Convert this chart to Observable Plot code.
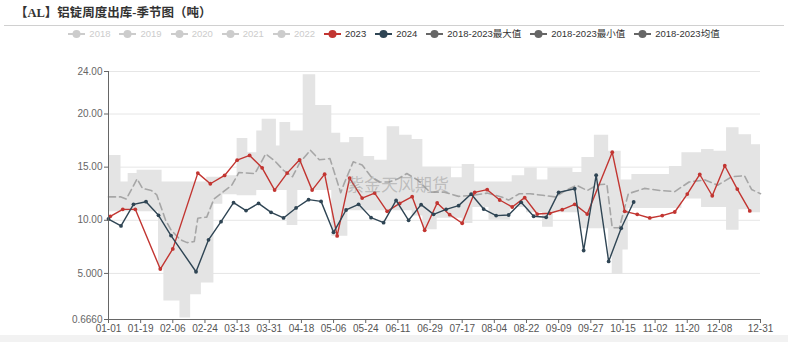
<!DOCTYPE html>
<html><head><meta charset="utf-8">
<script src="https://cdn.jsdelivr.net/npm/d3@7"></script>
<script src="https://cdn.jsdelivr.net/npm/@observablehq/plot@0.6"></script>
<style>
body{margin:0;background:#fff;font-family:"Liberation Sans","Noto Sans CJK SC",sans-serif;}
#wrap{position:relative;width:788px;height:342px;overflow:hidden;background:#fff}
#title{position:absolute;left:15px;top:5px;font-size:12.5px;font-weight:bold;color:#333;font-family:"Liberation Serif","Noto Sans CJK SC",serif;line-height:16px}
#rule{position:absolute;left:4px;right:4px;top:25px;height:1px;background:#d0d0d0}
#legend{position:absolute;top:28px;left:0;width:788px;display:flex;justify-content:center;align-items:center;font-size:9.5px;line-height:12px}
.item{display:flex;align-items:center;margin:0 4.5px}
.item svg{margin-right:4px}
#chart{position:absolute;top:44px;left:0}
#foot{position:absolute;top:335px;left:0;width:788px;height:7px;background:#f2f2f2}
#wm{position:absolute;left:347px;top:171px;font-size:17px;color:rgba(140,140,140,0.45);font-family:"Noto Sans CJK SC",sans-serif;pointer-events:none}
</style></head>
<body>
<div id="wrap">
  <div id="title">【AL】铝锭周度出库-季节图（吨）</div>
  <div id="rule"></div>
  <div id="legend"></div>
  <div id="chart"></div>
  <div id="wm">紫金天风期货</div>
  <div id="foot"></div>
</div>
<script>
// ---- data ----
const legendNames = ["2018","2019","2020","2021","2022","2023","2024","2018-2023最大值","2018-2023最小值","2018-2023均值"];
const legendColors = ["#cccccc","#cccccc","#cccccc","#cccccc","#cccccc","#c23531","#2f4554","#666666","#666666","#666666"];
const legendText = ["#cccccc","#cccccc","#cccccc","#cccccc","#cccccc","#333333","#333333","#333333","#333333","#333333"];

const dates2023 = ["01-02","01-09","01-16","01-30","02-06","02-20","02-27","03-06","03-13","03-20","03-27","04-03","04-10","04-17","04-24","05-01","05-08","05-15","05-22","05-29","06-05","06-12","06-19","06-26","07-03","07-10","07-17","07-24","07-31","08-07","08-14","08-21","08-28","09-04","09-11","09-18","09-25","10-09","10-16","10-23","10-30","11-06","11-13","11-20","11-27","12-04","12-11","12-18","12-25"];
const values2023 = [10.37,11.03,11.03,5.41,7.31,14.44,13.44,14.22,15.66,16.1,14.94,12.84,14.44,15.69,12.84,14.34,8.53,13.97,12.09,12.56,10.84,11.59,12.22,9.06,11.63,10.53,9.72,12.63,12.88,11.91,11.25,12.13,10.59,10.66,11.0,11.5,10.59,16.4,10.84,10.56,10.22,10.44,10.78,12.47,14.31,12.31,15.13,12.94,10.88];

const dates2024 = ["01-01","01-08","01-15","01-22","01-29","02-05","02-19","02-26","03-04","03-11","03-18","03-25","04-01","04-08","04-15","04-22","04-29","05-06","05-13","05-20","05-27","06-03","06-10","06-17","06-24","07-01","07-08","07-15","07-22","07-29","08-05","08-12","08-19","08-26","09-02","09-09","09-18","09-23","09-30","10-07","10-14","10-21"];
const values2024 = [10.12,9.47,11.5,11.75,10.47,8.56,5.16,8.16,9.87,11.66,10.91,11.59,10.75,10.22,11.16,11.94,11.78,8.87,10.97,11.5,10.25,9.78,11.87,10.0,11.47,10.56,11.03,11.38,12.47,11.06,10.44,10.5,11.69,10.38,10.28,12.63,12.97,7.16,14.25,6.13,9.25,11.72];

const maxDates = ["01-01","01-08","01-12","01-17","01-31","02-25","03-05","03-13","03-19","03-24","03-27","04-04","04-06","04-12","04-19","04-26","05-05","05-10","05-15","05-23","05-29","06-05","06-12","06-19","06-25","07-11","07-17","07-24","08-14","08-21","08-28","09-03","09-17","09-22","09-29","10-07","10-14","10-20","11-10","11-17","11-28","12-05","12-12","12-19","12-26","12-31"];
const maxValues = [16.1,13.6,14.4,14.7,13.6,14.06,14.2,17.7,16.35,18.4,19.5,17.0,19.2,18.4,23.7,20.8,18.2,17.3,17.8,16.0,15.65,18.8,18.0,17.6,15.0,14.0,15.25,13.6,14.2,14.9,13.8,14.9,14.5,15.9,18.0,16.5,13.8,14.3,15.05,16.35,16.65,16.5,18.7,18.06,17.1,17.1];

const minDates = ["01-01","01-29","02-01","02-10","02-16","02-22","02-29","03-05","03-13","03-24","04-04","04-10","04-16","05-05","05-14","06-19","06-25","07-03","07-17","07-23","08-01","08-13","08-22","08-31","09-06","09-21","10-07","10-09","10-15","10-18","11-17","11-28","12-12","12-19","12-26","12-31"];
const minValues = [10.8,5.4,2.4,0.8,3.0,4.1,11.5,12.4,12.3,12.8,12.8,9.5,12.8,8.5,10.9,10.4,9.1,10.2,9.7,11.2,10.0,11.2,10.7,9.35,10.7,9.2,6.6,4.9,7.2,11.1,12.0,11.2,9.06,11.0,10.7,10.7];

const meanDates = ["01-01","01-08","01-11","01-17","01-20","01-25","01-28","02-02","02-05","02-10","02-14","02-18","02-20","02-25","02-29","03-05","03-10","03-14","03-23","03-29","04-03","04-08","04-13","04-17","04-23","04-28","05-04","05-10","05-12","05-17","05-22","05-27","06-01","06-06","06-11","06-16","06-22","06-29","07-07","07-15","07-23","07-31","08-08","08-12","08-18","08-24","08-31","09-07","09-13","09-19","09-25","10-01","10-06","10-09","10-13","10-18","10-27","11-05","11-13","11-21","11-30","12-07","12-15","12-22","12-26","12-31"];
const meanValues = [12.2,12.2,12.0,13.9,13.0,12.8,12.4,10.0,9.1,8.2,7.9,8.0,10.2,10.3,12.0,12.65,13.3,14.5,14.4,16.25,15.6,14.7,14.1,15.4,16.6,15.7,15.8,12.6,13.5,15.5,15.2,14.1,13.6,13.6,13.9,14.4,13.8,12.65,12.65,12.25,12.35,12.56,12.2,11.9,12.5,12.5,12.35,12.2,12.8,13.3,12.8,13.35,13.4,9.3,9.3,12.5,13.0,12.8,12.7,13.6,13.8,13.3,14.1,14.2,12.9,12.5];

const xTickLabels = ["01-01","01-19","02-06","02-24","03-13","03-31","04-18","05-06","05-24","06-11","06-29","07-17","08-04","08-22","09-09","09-27","10-15","11-02","11-20","12-08","12-31"];
const yTickValues = [0.666,5,10,15,20,24];
const yTickLabels = ["0.6660","5.000","10.00","15.00","20.00","24.00"];

// ---- helpers ----
const md = s => new Date(2024, +s.slice(0,2)-1, +s.slice(3,5));
const rows = (ds, vs) => ds.map((d,i) => ({date: md(d), value: vs[i]}));
const s2023 = rows(dates2023, values2023);
const s2024 = rows(dates2024, values2024);
const sMean = rows(meanDates, meanValues);
const sMax = rows(maxDates, maxValues);
const sMin = rows(minDates, minValues);
const allT = Array.from(new Set([...sMax, ...sMin].map(d => +d.date))).sort((a,b)=>a-b);
const bis = d3.bisector(d => +d.date).right;
const band = allT.map(t => ({date: new Date(t), hi: sMax[Math.max(0,bis(sMax,t)-1)].value, lo: sMin[Math.max(0,bis(sMin,t)-1)].value}));
const xTicks = xTickLabels.map(md);

// ---- legend ----
const leg = document.getElementById("legend");
legendNames.forEach((n,i) => {
  const it = document.createElement("div"); it.className = "item";
  it.innerHTML = `<svg width="17" height="10"><line x1="0" x2="17" y1="5" y2="5" stroke="${legendColors[i]}" stroke-width="2"/><circle cx="8.5" cy="5" r="4" fill="${legendColors[i]}"/></svg><span style="color:${legendText[i]}">${n}</span>`;
  leg.appendChild(it);
});

// ---- chart ----
const chart = Plot.plot({
  width: 788, height: 291,
  marginLeft: 108, marginRight: 28, marginTop: 27, marginBottom: 16,
  style: {fontFamily: "'Liberation Sans','Noto Sans CJK SC',sans-serif", fontSize: "10px", color: "#666", background: "transparent"},
  x: {type: "time", domain: [md("01-01"), md("12-31")]},
  y: {domain: [0.666, 24]},
  marks: [
    Plot.gridY([5,10,15,20,24], {stroke: "#e6e6e6", strokeOpacity: 1}),
    Plot.areaY(band, {x: "date", y1: "lo", y2: "hi", curve: "step-after", fill: "#e4e4e4"}),
    Plot.line(sMean, {x: "date", y: "value", stroke: "#a6a6a6", strokeWidth: 1.6, strokeDasharray: "7,4"}),
    Plot.line(s2023, {x: "date", y: "value", stroke: "#c23531", strokeWidth: 1.4}),
    Plot.dot(s2023, {x: "date", y: "value", r: 1.9, fill: "#c23531"}),
    Plot.line(s2024, {x: "date", y: "value", stroke: "#2f4554", strokeWidth: 1.4}),
    Plot.dot(s2024, {x: "date", y: "value", r: 1.9, fill: "#2f4554"}),
    Plot.ruleX([md("01-01")], {stroke: "#666"}),
    Plot.ruleY([0.666], {stroke: "#666"}),
    Plot.axisY(yTickValues, {tickFormat: (d,i) => yTickLabels[i], tickSize: 4, tickPadding: 2, stroke: "#666", fill: "#666", fontSize: 10}),
    Plot.axisX(xTicks, {tickFormat: (d,i) => xTickLabels[i], tickSize: 4, tickPadding: 1, stroke: "#666", fill: "#555", fontSize: 10})
  ]
});
document.getElementById("chart").appendChild(chart);
</script>
</body></html>
